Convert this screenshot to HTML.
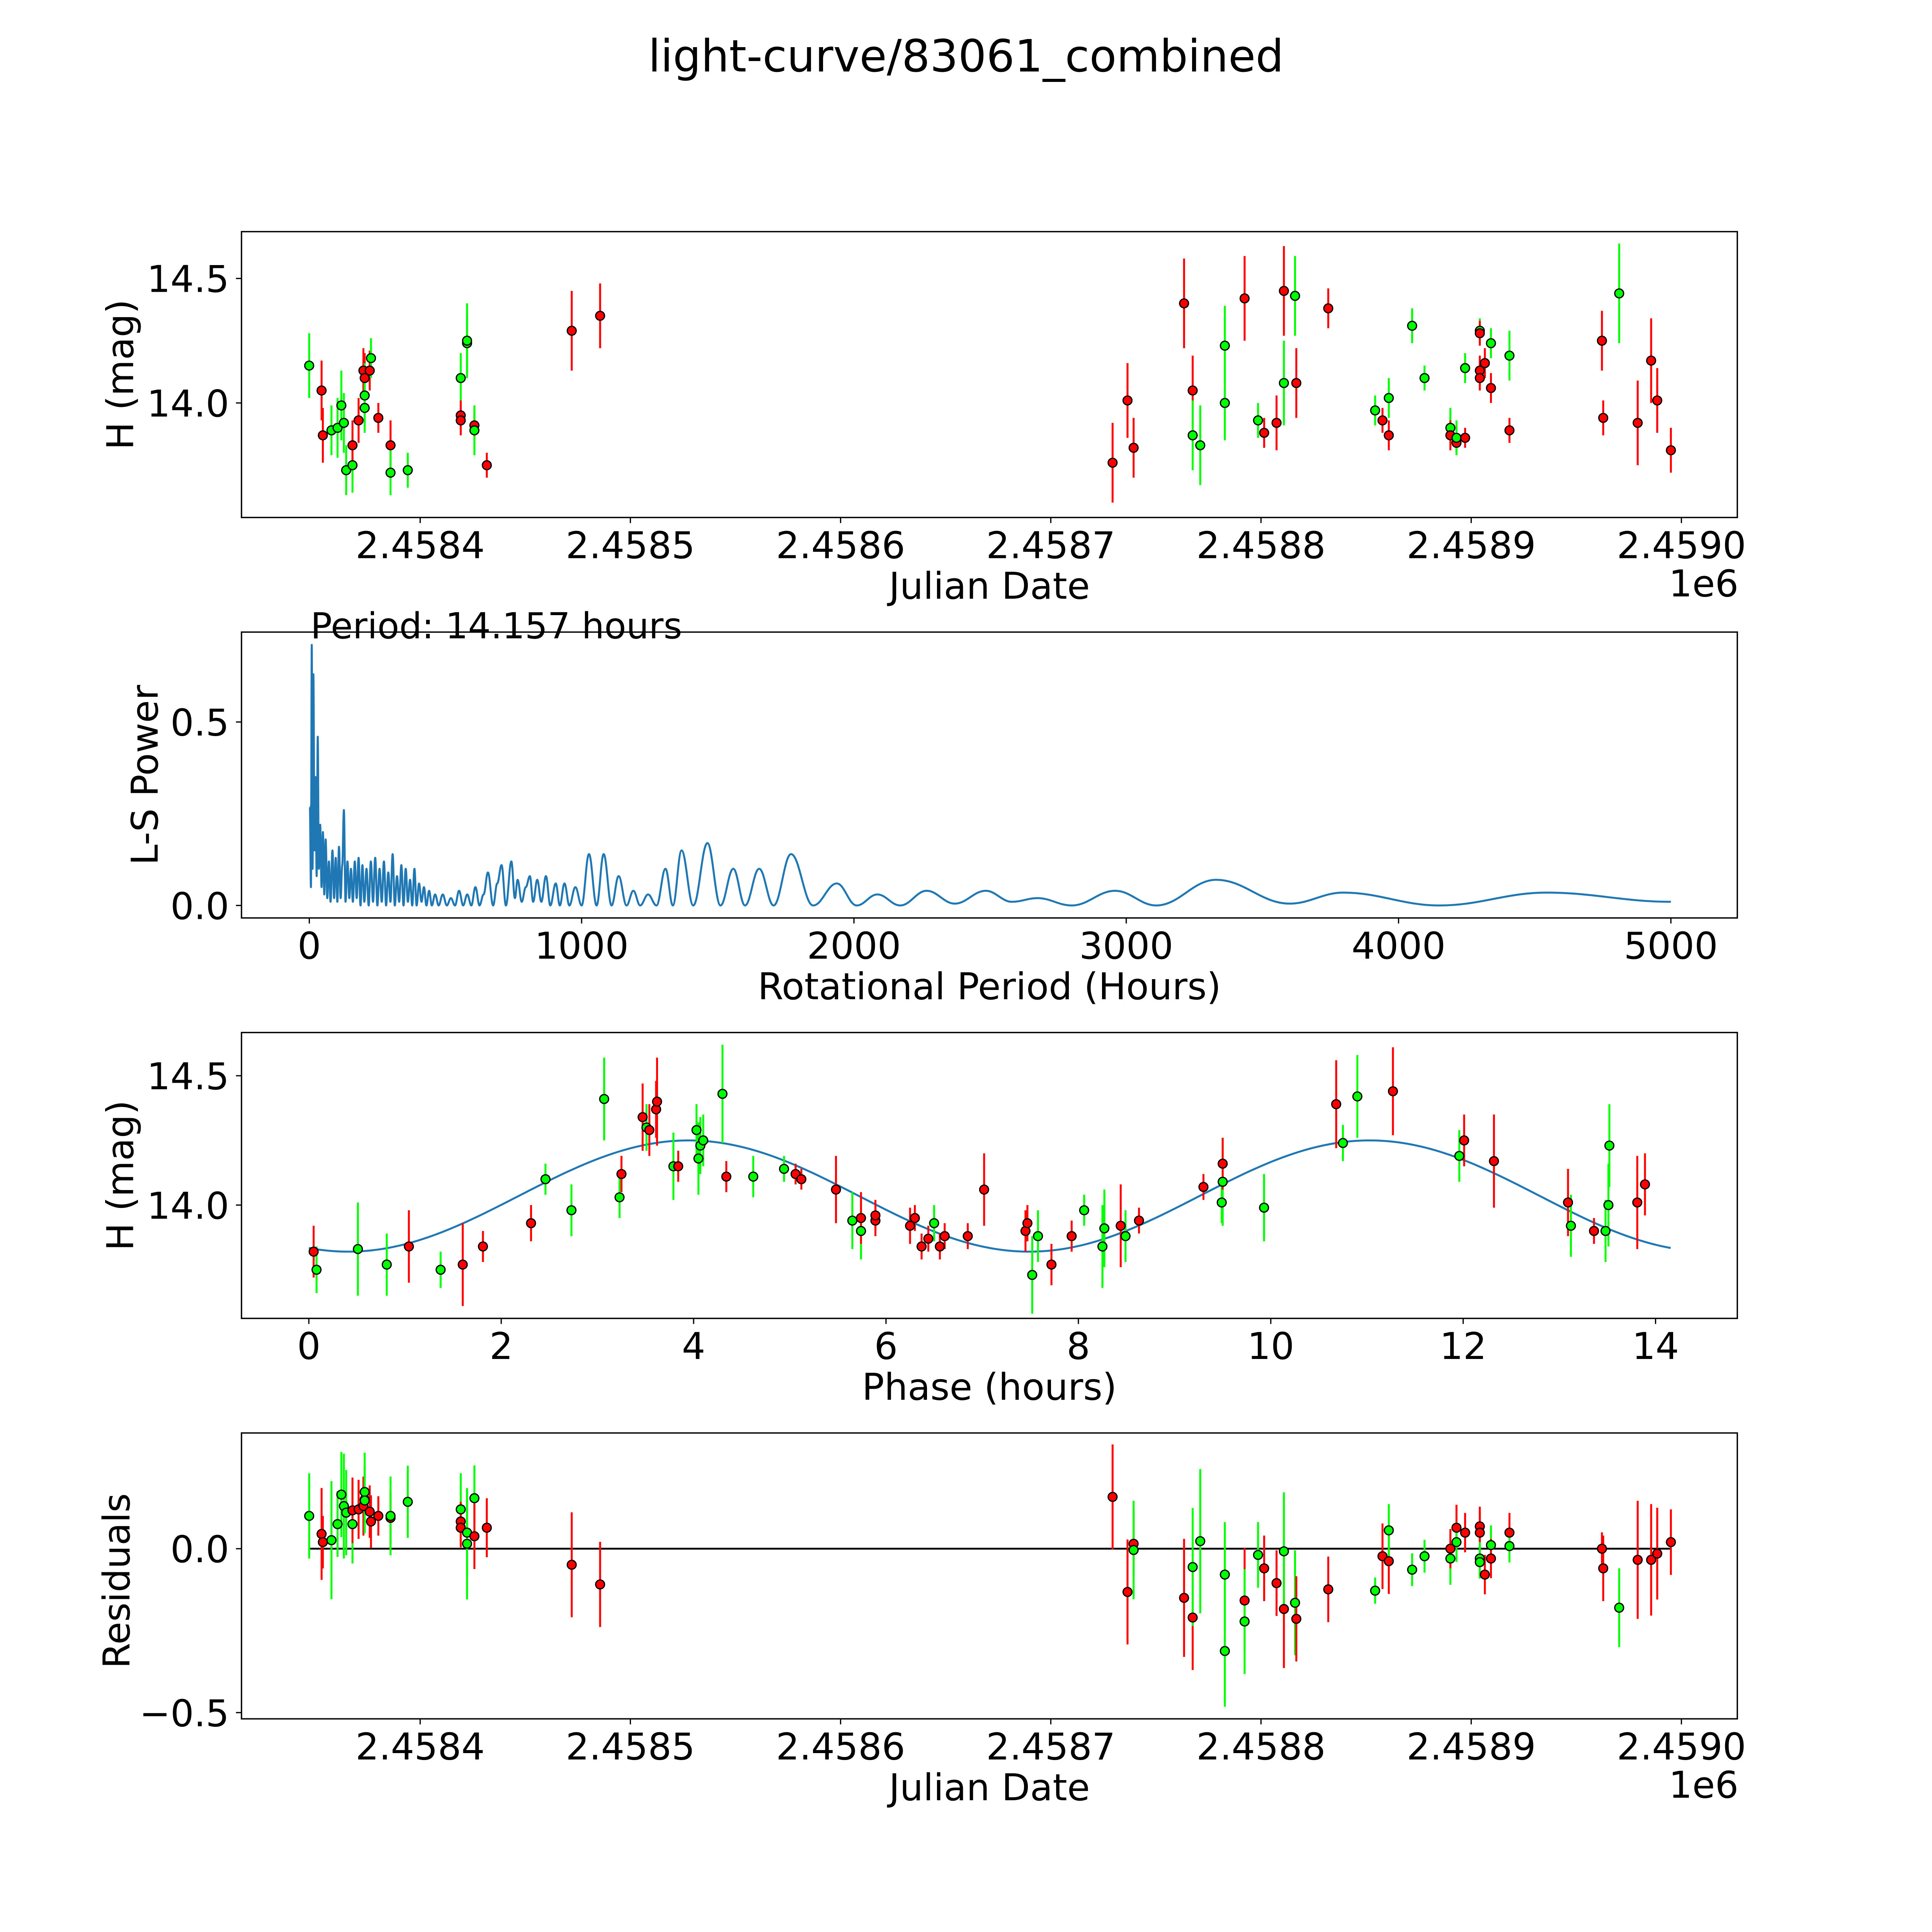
<!DOCTYPE html>
<html><head><meta charset="utf-8"><style>
html,body{margin:0;padding:0;background:#fff;overflow:hidden;width:100%;height:100%;}
svg{display:block;width:100vw;height:100vh;font-family:"DejaVu Sans","Liberation Sans",sans-serif;}
</style></head><body>
<svg id="fig" xmlns="http://www.w3.org/2000/svg" viewBox="0 0 1568 1568" preserveAspectRatio="none">
<rect x="0" y="0" width="1568" height="1568" fill="#fff"/>
<text x="784" y="58" font-size="36" text-anchor="middle">light-curve/83061_combined</text>
<text x="252" y="518" font-size="29">Period: 14.157 hours</text>
</svg>
<script>
// ---- Panel 1: light curve (JD - 2458000, H mag) ----
const jd1=[347.2,353.1,353.7,357.8,360.7,362.5,363.7,364.8,367.8,367.8,370.7,373.0,373.6,376.0,373.6,373.6,376.6,380.1,385.9,385.9,394.1,419.3,419.3,419.3,422.3,422.3,425.8,425.8,431.7,472.1,485.6,729.4,736.5,739.4,763.4,767.5,767.5,771.1,782.8,782.8,792.2,798.6,801.5,807.4,810.9,810.9,816.2,816.8,832.0,854.3,857.8,860.8,860.8,871.9,877.8,890.1,890.1,893.0,893.0,897.1,897.1,904.1,904.1,904.1,904.1,906.5,909.4,909.4,918.2,918.2,962.2,962.8,970.4,979.2,985.6,988.5,995.0];
const mag1=[14.15,14.05,13.87,13.89,13.90,13.99,13.92,13.73,13.75,13.83,13.93,14.13,14.10,14.13,14.03,13.98,14.18,13.94,13.83,13.72,13.73,14.10,13.95,13.93,14.24,14.25,13.91,13.89,13.75,14.29,14.35,13.76,14.01,13.82,14.40,14.05,13.87,13.83,14.23,14.00,14.42,13.93,13.88,13.92,14.45,14.08,14.43,14.08,14.38,13.97,13.93,13.87,14.02,14.31,14.10,13.90,13.87,13.84,13.86,14.14,13.86,14.29,14.28,14.13,14.10,14.16,14.24,14.06,14.19,13.89,14.25,13.94,14.44,13.92,14.17,14.01,13.81];
const err1=[0.13,0.12,0.11,0.1,0.12,0.14,0.12,0.1,0.11,0.1,0.09,0.09,0.1,0.08,0.13,0.1,0.08,0.06,0.1,0.09,0.07,0.1,0.06,0.06,0.12,0.15,0.05,0.1,0.05,0.16,0.13,0.16,0.15,0.12,0.18,0.14,0.14,0.16,0.16,0.15,0.17,0.07,0.06,0.11,0.18,0.17,0.16,0.14,0.08,0.06,0.05,0.06,0.08,0.07,0.05,0.08,0.06,0.04,0.07,0.06,0.04,0.05,0.05,0.06,0.05,0.06,0.06,0.06,0.1,0.05,0.12,0.07,0.2,0.17,0.17,0.13,0.09];
const col1=['g','r','r','g','g','g','g','g','g','r','r','r','r','r','g','g','g','r','r','g','g','g','r','r','g','g','r','g','r','r','r','r','r','r','r','r','g','g','g','g','r','g','r','r','r','g','g','r','r','g','r','r','g','g','g','g','r','r','g','g','r','g','r','r','r','r','g','r','g','r','r','r','g','r','r','r','r'];
const jdTicks=[2458400,2458500,2458600,2458700,2458800,2458900,2459000];
const jdTickLabels=['2.4584','2.4585','2.4586','2.4587','2.4588','2.4589','2.4590'];
const magTicks=[14.0,14.5];
const magTickLabels=['14.0','14.5'];

// ---- Panel 2: Lomb-Scargle periodogram ----
const lsPeriod=[2,6,9,12,15,19,23,27,31,35,40,45,50,55,60,66,72,78,85,91,97,103,109,115,121,127,133,140,147,153,160,167,174,181,188,195,202,210,218,226,234,242,250,258,266,274,282,290,298,306,314,322,330,338,346,354,362,370,378,386,394,403,412,421,430,440,450,462,475,490,505,520,535,550,565,580,595,610,625,640,656,675,690,706,722,742,755,765,780,795,810,822,837,852,869,885,905,920,937,955,977,1000,1027,1055,1081,1110,1136,1165,1190,1215,1244,1275,1308,1335,1367,1410,1462,1510,1557,1600,1652,1705,1769,1850,1937,2010,2086,2170,2267,2370,2484,2580,2674,2800,2959,3110,3330,3600,3796,4150,4543,5000];
const lsPower=[0.27,0.05,0.71,0.1,0.63,0.15,0.35,0.08,0.46,0.1,0.22,0.05,0.2,0.03,0.18,0.02,0.12,0.01,0.15,0.02,0.13,0.01,0.16,0.02,0.11,0.26,0.01,0.12,0.02,0.1,0.01,0.12,0.02,0.13,0.0,0.11,0.01,0.1,0.0,0.12,0.01,0.13,0.0,0.1,0.01,0.12,0.0,0.09,0.01,0.14,0.0,0.08,0.01,0.11,0.0,0.1,0.01,0.07,0.0,0.1,0.0,0.06,0.01,0.05,0.0,0.04,0.0,0.03,0.0,0.03,0.0,0.02,0.0,0.04,0.0,0.03,0.0,0.05,0.0,0.03,0.09,0.0,0.06,0.11,0.0,0.12,0.02,0.07,0.01,0.05,0.08,0.01,0.07,0.01,0.08,0.0,0.06,0.0,0.06,0.0,0.05,0.0,0.14,0.0,0.14,0.0,0.08,0.0,0.04,0.0,0.03,0.0,0.10,0.0,0.15,0.0,0.17,0.0,0.10,0.0,0.10,0.0,0.14,0.0,0.06,0.0,0.03,0.0,0.04,0.005,0.04,0.01,0.02,0.0,0.04,0.0,0.07,0.005,0.035,0.0,0.035,0.01];
const lsXTicks=[0,1000,2000,3000,4000,5000];
const lsYTicks=[0.0,0.5];
const lsYTickLabels=['0.0','0.5'];

// ---- Panel 3: phase-folded curve ----
const ph3=[0.05,0.08,0.51,0.81,1.04,1.37,1.60,1.81,2.31,2.46,2.73,3.07,3.23,3.25,3.47,3.51,3.54,3.61,3.62,3.79,3.84,4.03,4.05,4.07,4.10,4.30,4.34,4.62,4.94,5.06,5.12,5.48,5.65,5.74,5.74,5.89,5.89,6.25,6.30,6.37,6.44,6.50,6.56,6.61,6.85,7.02,7.45,7.47,7.52,7.58,7.72,7.93,8.06,8.25,8.27,8.44,8.49,8.63,9.30,9.49,9.50,9.50,9.93,10.68,10.75,10.90,11.27,11.96,12.01,12.32,13.09,13.12,13.36,13.48,13.51,13.52,13.81,13.89];
const mag3=[13.82,13.75,13.83,13.77,13.84,13.75,13.77,13.84,13.93,14.10,13.98,14.41,14.03,14.12,14.34,14.30,14.29,14.37,14.40,14.15,14.15,14.29,14.18,14.23,14.25,14.43,14.11,14.11,14.14,14.12,14.10,14.06,13.94,13.90,13.95,13.94,13.96,13.92,13.95,13.84,13.87,13.93,13.84,13.88,13.88,14.06,13.90,13.93,13.73,13.88,13.77,13.88,13.98,13.84,13.91,13.92,13.88,13.94,14.07,14.01,14.09,14.16,13.99,14.39,14.24,14.42,14.44,14.19,14.25,14.17,14.01,13.92,13.90,13.90,14.00,14.23,14.01,14.08];
const col3=['r','g','g','g','r','g','r','r','r','g','g','g','g','r','r','g','r','r','r','g','r','g','g','g','g','g','r','g','g','r','r','r','g','g','r','r','r','r','r','r','r','g','r','r','r','r','r','r','g','g','r','r','g','g','g','r','g','r','r','g','g','r','g','r','g','g','r','g','r','r','r','g','r','g','g','g','r','r'];
const err3=[0.1,0.09,0.18,0.12,0.14,0.07,0.16,0.06,0.07,0.06,0.1,0.16,0.08,0.07,0.13,0.09,0.1,0.11,0.17,0.13,0.06,0.1,0.14,0.11,0.1,0.19,0.06,0.08,0.05,0.04,0.04,0.13,0.11,0.11,0.1,0.06,0.06,0.07,0.05,0.05,0.05,0.07,0.05,0.05,0.05,0.14,0.08,0.07,0.15,0.1,0.08,0.06,0.06,0.16,0.15,0.16,0.1,0.05,0.05,0.08,0.17,0.1,0.13,0.17,0.07,0.16,0.17,0.1,0.1,0.18,0.13,0.12,0.05,0.12,0.16,0.16,0.18,0.12];
const modelMean=[14.035];
const modelAmp=[0.215];
const modelPhase0=[2.18];
const modelPeriod=[14.157];
const phTicks=[0,2,4,6,8,10,12,14];
const phMagTicks=[14.0,14.5];

// ---- Panel 4: residuals ----
const jd4=[347.2,353.1,353.7,357.8,360.7,362.5,363.7,364.8,367.8,367.8,370.7,373.0,373.6,376.0,373.6,373.6,376.6,380.1,385.9,385.9,394.1,419.3,419.3,419.3,422.3,422.3,425.8,425.8,431.7,472.1,485.6,729.4,736.5,739.4,739.4,763.4,767.5,767.5,771.1,782.8,782.8,792.2,792.2,798.6,801.5,807.4,810.9,810.9,816.2,816.8,832.0,854.3,857.8,860.8,860.8,871.9,877.8,890.1,890.1,893.0,893.0,897.1,904.1,904.1,904.1,904.1,906.5,909.4,909.4,918.2,918.2,962.2,962.8,970.4,979.2,985.6,988.5,995.0];
const res4=[0.10,0.045,0.02,0.026,0.075,0.165,0.13,0.11,0.075,0.117,0.12,0.13,0.15,0.113,0.173,0.147,0.083,0.10,0.094,0.10,0.143,0.12,0.083,0.064,0.015,0.049,0.154,0.038,0.064,-0.049,-0.109,0.158,-0.132,0.015,-0.004,-0.15,-0.21,-0.056,0.023,-0.079,-0.312,-0.158,-0.222,-0.019,-0.06,-0.105,-0.184,-0.008,-0.165,-0.214,-0.124,-0.128,-0.023,-0.038,0.056,-0.064,-0.023,-0.03,0.0,0.064,0.02,0.049,0.068,0.049,-0.03,-0.041,-0.079,0.011,-0.03,0.049,0.008,0.0,-0.06,-0.18,-0.034,-0.034,-0.015,0.02];
const col4=['g','r','r','g','g','g','g','g','g','r','r','r','r','r','g','g','r','r','r','g','g','g','r','r','g','g','g','r','r','r','r','r','r','r','g','r','r','g','g','g','g','r','g','g','r','r','r','g','g','r','r','g','r','r','g','g','g','g','r','r','g','r','r','r','g','g','r','g','r','r','g','r','r','g','r','r','r','r'];
const err4=[0.13,0.14,0.08,0.18,0.1,0.13,0.16,0.13,0.12,0.1,0.09,0.09,0.1,0.08,0.12,0.1,0.08,0.06,0.08,0.12,0.11,0.11,0.06,0.06,0.17,0.13,0.1,0.1,0.09,0.16,0.13,0.16,0.16,0.1,0.15,0.18,0.16,0.18,0.22,0.16,0.17,0.16,0.16,0.1,0.1,0.1,0.18,0.18,0.16,0.13,0.1,0.04,0.1,0.1,0.08,0.05,0.05,0.08,0.06,0.07,0.06,0.06,0.06,0.06,0.05,0.05,0.06,0.06,0.06,0.06,0.05,0.05,0.1,0.12,0.18,0.17,0.14,0.1];
const resTicks=[-0.5,0.0];
const resTickLabels=['\u22120.5','0.0'];

// ---- layout ----
const SVGNS='http://www.w3.org/2000/svg';
const fig=document.getElementById('fig');
const AX={x0:196,x1:1410};
const panels=[{y0:188,y1:420},{y0:513,y1:745},{y0:838,y1:1070},{y0:1163,y1:1395}];
function lin(d0,d1,r0,r1){return v=>r0+(v-d0)/(d1-d0)*(r1-r0);}
function mk(tag,attrs,parent){const e=document.createElementNS(SVGNS,tag);for(const k in attrs)e.setAttribute(k,attrs[k]);(parent||fig).appendChild(e);return e;}
const COL={r:'#ff0000',g:'#00ff00'};

const xJD=lin(315,1026.6,AX.x0,AX.x1);
const y1=lin(14.688,13.54,panels[0].y0,panels[0].y1);
const xLS=lin(-249,5244,AX.x0,AX.x1);
const yLS=lin(0.745,-0.034,panels[1].y0,panels[1].y1);
const xPH=lin(-0.70,14.85,AX.x0,AX.x1);
const y3=lin(14.667,13.562,panels[2].y0,panels[2].y1);
const y4=lin(0.353,-0.519,panels[3].y0,panels[3].y1);

function frame(p,name){
  const r=mk('rect',{x:AX.x0,y:p.y0,width:AX.x1-AX.x0,height:p.y1-p.y0,fill:'none',stroke:'#000','stroke-width':1.1});
  
  
}
function xticks(p,vals,labels,fx,name){
  const g=mk('g',{});
  
  
  vals.forEach((v,i)=>{
    const x=fx(v);
    mk('line',{x1:x,x2:x,y1:p.y1,y2:p.y1+4.5,stroke:'#000','stroke-width':1},g);
    const t=mk('text',{x:x,y:p.y1+33,'font-size':30,'text-anchor':'middle'},g);
    t.textContent=labels[i];
  });
}
function yticks(p,vals,labels,fy,name){
  const g=mk('g',{});
  
  
  vals.forEach((v,i)=>{
    const y=fy(v);
    mk('line',{x1:AX.x0-4.5,x2:AX.x0,y1:y,y2:y,stroke:'#000','stroke-width':1},g);
    const t=mk('text',{x:AX.x0-10,y:y+11,'font-size':30,'text-anchor':'end'},g);
    t.textContent=labels[i];
  });
}
function label(x,y,txt,rot,name){
  const t=mk('text',{x:x,y:y,'font-size':30,'text-anchor':'middle'});
  if(rot)t.setAttribute('transform','rotate(-90 '+x+' '+y+')');
  t.textContent=txt;
  
  
}
function scatter(xs,ys,es,cs,fx,fy,name){
  const g=mk('g',{});
  
  
  for(let i=0;i<xs.length;i++){
    const x=fx(xs[i]);
    const ya=fy(ys[i]+es[i]),yb=fy(ys[i]-es[i]);
    const l=mk('line',{x1:x,x2:x,y1:ya,y2:yb,stroke:COL[cs[i]],'stroke-width':1.6},g);
    
    
  }
  for(let i=0;i<xs.length;i++){
    const c=mk('circle',{cx:fx(xs[i]),cy:fy(ys[i]),r:3.6,fill:COL[cs[i]],stroke:'#000','stroke-width':1},g);
    
    
  }
}
const d0=2458000;
const jdX=v=>xJD(v-d0);

// Panel 1
scatter(jd1,mag1,err1,col1,xJD,y1,'light-curve-points');
frame(panels[0],'light-curve-axes');
xticks(panels[0],jdTicks,jdTickLabels,jdX,'light-curve-x-ticks');
yticks(panels[0],magTicks,magTickLabels,y1,'light-curve-y-ticks');
label(803,486,'Julian Date',false,'light-curve-x-axis-title');
label(108,304,'H (mag)',true,'light-curve-y-axis-title');
(function(){const t=mk('text',{x:1411,y:484,'font-size':30,'text-anchor':'end'});t.textContent='1e6';})();

// Panel 2
(function(){
  let d='M'+xLS(lsPeriod[0])+' '+yLS(lsPower[0]);
  for(let i=1;i<lsPeriod.length;i++){
    const xa=xLS(lsPeriod[i-1]),ya=yLS(lsPower[i-1]),xb=xLS(lsPeriod[i]),yb=yLS(lsPower[i]);
    const dx=(xb-xa)/2.6;
    d+=' C'+(xa+dx)+' '+ya+' '+(xb-dx)+' '+yb+' '+xb+' '+yb;
  }
  const p=mk('path',{d:d,fill:'none',stroke:'#1f77b4','stroke-width':1.6,'stroke-linejoin':'round'});
  
  
})();
frame(panels[1],'periodogram-axes');
xticks(panels[1],lsXTicks,lsXTicks.map(String),xLS,'periodogram-x-ticks');
yticks(panels[1],lsYTicks,lsYTickLabels,yLS,'periodogram-y-ticks');
label(803,811,'Rotational Period (Hours)',false,'periodogram-x-axis-title');
label(128,629,'L-S Power',true,'periodogram-y-axis-title');

// Panel 3
(function(){
  const pts=[];
  for(let i=0;i<=300;i++){
    const p=modelPeriod[0]*i/300;
    const m=modelMean[0]+modelAmp[0]*Math.sin(2*Math.PI*(p-modelPhase0[0])/(modelPeriod[0]/2));
    pts.push(xPH(p).toFixed(2)+','+y3(m).toFixed(2));
  }
  const pl=mk('polyline',{points:pts.join(' '),fill:'none',stroke:'#1f77b4','stroke-width':1.6});
  
  
})();
scatter(ph3,mag3,err3,col3,xPH,y3,'phase-curve-points');
frame(panels[2],'phase-axes');
xticks(panels[2],phTicks,phTicks.map(String),xPH,'phase-x-ticks');
yticks(panels[2],phMagTicks,['14.0','14.5'],y3,'phase-y-ticks');
label(803,1136,'Phase (hours)',false,'phase-x-axis-title');
label(108,954,'H (mag)',true,'phase-y-axis-title');

// Panel 4
(function(){
  const l=mk('line',{x1:jdX(jd4[0]+d0),x2:jdX(jd4[jd4.length-1]+d0),y1:y4(0),y2:y4(0),stroke:'#000','stroke-width':1.5});
  
  
})();
scatter(jd4,res4,err4,col4,xJD,y4,'residual-points');
frame(panels[3],'residuals-axes');
xticks(panels[3],jdTicks,jdTickLabels,jdX,'residuals-x-ticks');
yticks(panels[3],resTicks,resTickLabels,y4,'residuals-y-ticks');
label(803,1461,'Julian Date',false,'residuals-x-axis-title');
label(105,1283,'Residuals',true,'residuals-y-axis-title');
(function(){const t=mk('text',{x:1411,y:1459,'font-size':30,'text-anchor':'end'});t.textContent='1e6';})();
</script>
</body></html>
